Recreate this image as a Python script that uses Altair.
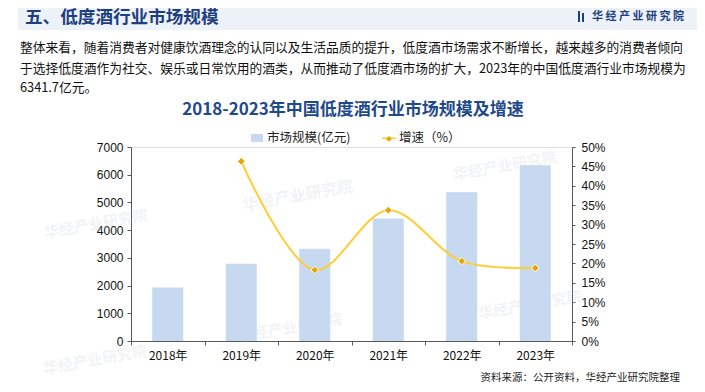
import altair as alt
import pandas as pd

years = ["2018年", "2019年", "2020年", "2021年", "2022年", "2023年"]
market = [1930, 2790, 3330, 4420, 5370, 6341.7]
growth = [None, 46.3, 18.3, 33.7, 20.6, 18.8]

page_title = "五、低度酒行业市场规模"
logo_text = "华 经 产 业 研 究 院"
para_lines = [
    "整体来看，随着消费者对健康饮酒理念的认同以及生活品质的提升，低度酒市场需求不断增长，越来越多的消费者倾向",
    "于选择低度酒作为社交、娱乐或日常饮用的酒类，从而推动了低度酒市场的扩大，2023年的中国低度酒行业市场规模为",
    "6341.7亿元。",
]
chart_title = "2018-2023年中国低度酒行业市场规模及增速"
legend_bar = "市场规模(亿元)"
legend_line = "增速（%）"
source_text = "资料来源：公开资料，华经产业研究院整理"
watermark = "华经产业研究院"

df = pd.DataFrame({"year": years, "market": market, "growth": growth})

OX, OY = 131, 147  # plot origin on the page
W, H = 441, 194
CJK = "Noto Sans CJK SC"
NUM = "Liberation Sans"


def txt(s, px, py, size, color="#222222", weight="normal", align="left",
        baseline="middle", font=CJK, angle=0, opacity=1.0):
    kw = dict(fontSize=size, color=color, fontWeight=weight, align=align,
              baseline=baseline, font=font, opacity=opacity)
    if angle:
        kw["angle"] = angle
    return alt.Chart(pd.DataFrame({"t": [s]})).mark_text(**kw).encode(
        text="t:N", x=alt.value(px - OX), y=alt.value(py - OY))


def box(x1, y1, x2, y2, color, opacity=1.0):
    return alt.Chart(pd.DataFrame({"a": [0]})).mark_rect(color=color, opacity=opacity).encode(
        x=alt.value(x1 - OX), x2=alt.value(x2 - OX),
        y=alt.value(y1 - OY), y2=alt.value(y2 - OY))


x_enc = alt.X("year:N", sort=years, title=None,
              scale=alt.Scale(paddingInner=0, paddingOuter=0),
              axis=alt.Axis(labelAngle=0, labelFont=CJK, labelFontSize=12,
                            labelColor="#111111", labelPadding=5,
                            tickBand="extent", tickSize=4,
                            domainColor="#595959", tickColor="#595959"))

bars = alt.Chart(df).mark_bar(size=31, color="#c6d9f1").encode(
    x=x_enc,
    y=alt.Y("market:Q", title=None,
            scale=alt.Scale(domain=[0, 7000]),
            axis=alt.Axis(values=list(range(0, 7001, 1000)), grid=False, format="d",
                          labelFont=NUM, labelFontSize=12, labelColor="#111111",
                          tickSize=4, labelPadding=4,
                          domainColor="#595959", tickColor="#595959")),
)

yr = alt.Y("growth:Q", title=None,
           scale=alt.Scale(domain=[0, 50]),
           axis=alt.Axis(orient="right", values=list(range(0, 51, 5)), grid=False,
                         labelExpr="datum.value + '%'",
                         labelFont=NUM, labelFontSize=12, labelColor="#111111",
                         tickSize=3, labelPadding=6, labelOverlap=False,
                         domainColor="#595959", tickColor="#595959"))

line = alt.Chart(df).transform_filter("isValid(datum.growth)").mark_line(
    color="#ffcc33", strokeWidth=2, interpolate="catmull-rom").encode(
    x=alt.X("year:N", sort=years), y=yr)
pts = alt.Chart(df).transform_filter("isValid(datum.growth)").mark_point(
    shape="diamond", filled=True, size=60, color="#e8a600",
    stroke="white", strokeWidth=1, opacity=1).encode(
    x=alt.X("year:N", sort=years), y=yr)

data_layer = alt.layer(bars, alt.layer(line, pts)).resolve_scale(y="independent")

# faint watermarks
wm = [
    (505, 166, 15), (298, 196, 16), (96, 224, 15),
    (530, 305, 15), (290, 328, 15), (95, 360, 15),
]
wm_layers = [txt(watermark, x, y, s, color="#bfc6d0", weight="bold",
                 align="center", angle=350, opacity=0.2) for x, y, s in wm]

deco = [
    box(18, 5, 700, 30, "#edf1f8"),
    txt(page_title, 25, 18, 17.6, color="#1d3f7f", weight="bold"),
    box(578, 11, 580, 22, "#1d3f7f"),
    box(582, 13, 584, 22, "#1d3f7f"),
    txt(logo_text, 592, 17, 11, color="#1d3f7f", weight="bold"),
    txt(para_lines[0], 20, 48, 12.75, color="#111111"),
    txt(para_lines[1], 20, 69, 12.75, color="#111111"),
    txt(para_lines[2], 20, 88, 12.75, color="#111111"),
    txt(chart_title, 353, 110, 17, color="#1f4a8a", weight="bold", align="center"),
    box(251, 134, 263, 142, "#c6d9f1"),
    txt(legend_bar, 267, 138, 12.5, color="#222222"),
    box(382, 137.5, 396, 139, "#ffcc33"),
    txt("◆", 389, 138.5, 6, color="#e8a600", align="center"),
    txt(legend_line, 399, 138, 12.5, color="#222222"),
    txt(source_text, 680, 378, 10.5, color="#222222", align="right"),
]

chart = alt.layer(*wm_layers, *deco, data_layer).resolve_scale(y="independent").properties(
    width=W, height=H,
    autosize=alt.AutoSizeParams(type="none"),
    padding={"left": OX - 8, "top": OY - 8, "right": 689 - (OX - 8) - W,
             "bottom": 376 - (OY - 8) - H},
).configure_view(stroke=None).configure(background="white")

chart.save("out.html", embed_options={"renderer": "svg", "actions": False})
